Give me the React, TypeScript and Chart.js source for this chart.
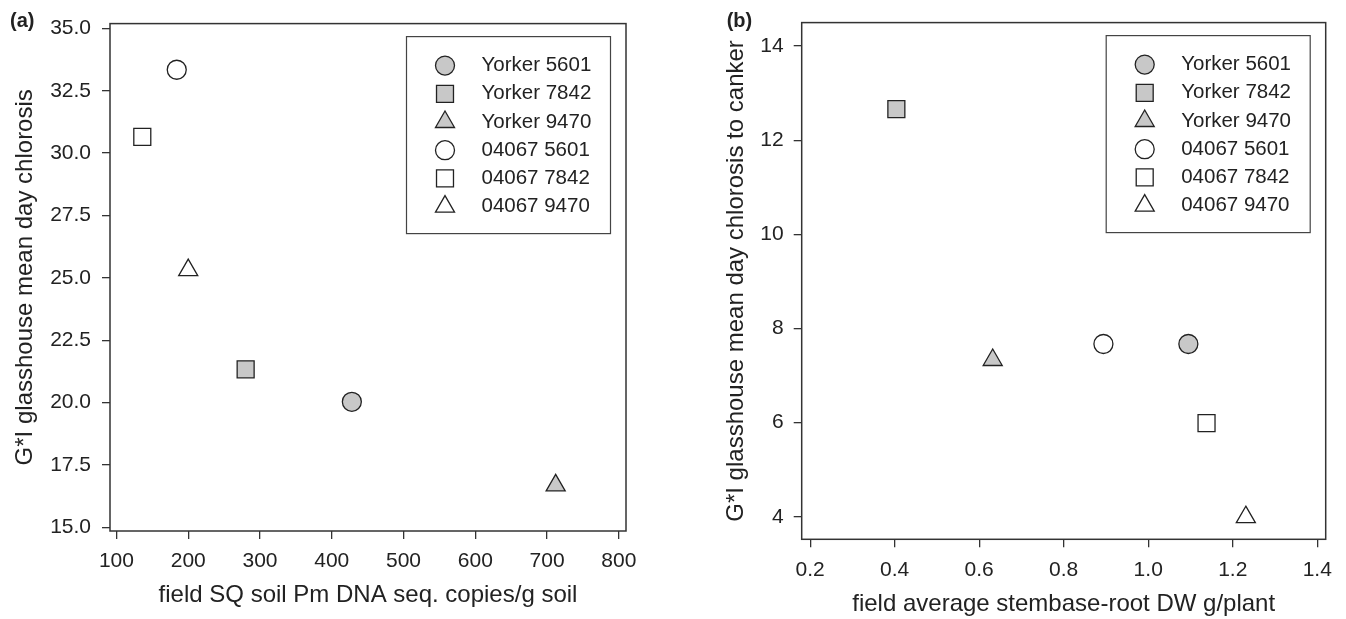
import React, { useEffect, useRef } from "react";
import { Chart, registerables } from "chart.js";
import { drawPoint } from "chart.js/helpers";

Chart.register(...registerables);

// ---------- data ----------
const seriesLabels = ["Yorker 5601", "Yorker 7842", "Yorker 9470", "04067 5601", "04067 7842", "04067 9470"];
const seriesShapes = ["circle", "rect", "triangle", "circle", "rect", "triangle"];
const seriesFilled = [true, true, true, false, false, false];

// panel (a): field SQ soil Pm DNA vs glasshouse mean day chlorosis
const panelAX = [428, 280, 712, 184, 136, 200];
const panelAY = [20.03, 21.33, 16.68, 33.34, 30.65, 25.31];
// panel (b): field stembase-root DW vs glasshouse mean day chlorosis to canker
const panelBX = [1.095, 0.404, 0.632, 0.894, 1.138, 1.231];
const panelBY = [7.67, 12.66, 7.33, 7.67, 5.99, 3.99];

const panelAXTicks = [100, 200, 300, 400, 500, 600, 700, 800];
const panelAYTicks = [15.0, 17.5, 20.0, 22.5, 25.0, 27.5, 30.0, 32.5, 35.0];
const panelBXTicks = [0.2, 0.4, 0.6, 0.8, 1.0, 1.2, 1.4];
const panelBYTicks = [4, 6, 8, 10, 12, 14];

const panelATitleX = "field SQ soil Pm DNA seq. copies/g soil";
const panelATitleY = "G*I glasshouse mean day chlorosis";
const panelBTitleX = "field average stembase-root DW g/plant";
const panelBTitleY = "G*I glasshouse mean day chlorosis to canker";

// ---------- styles ----------
const FONT = "'Liberation Sans', Arial, Helvetica, sans-serif";
const INK = "#222222";
const FRAME = "#333333";
const FILL = "#c8c8c8";
const H = 619;

const radiusFor = (shape: string) => (shape === "circle" ? 9.5 : shape === "rect" ? 12 : 11);

function buildDatasets(xs: number[], ys: number[]) {
  return seriesLabels.map((label, i) => ({
    label,
    data: [{ x: xs[i], y: ys[i] }],
    pointStyle: seriesShapes[i],
    pointRadius: radiusFor(seriesShapes[i]),
    pointHoverRadius: radiusFor(seriesShapes[i]),
    backgroundColor: seriesFilled[i] ? FILL : "#ffffff",
    borderColor: INK,
    borderWidth: 1.3,
    showLine: false,
  }));
}

function makeScale(o: {
  horizontal: boolean;
  min: number;
  max: number;
  ticks: number[];
  decimals: number;
  size: number;
  tickPad: number;
  title: string;
  titlePad: { top: number; bottom: number };
}) {
  return {
    type: "linear",
    min: o.min,
    max: o.max,
    afterBuildTicks: (s: any) => {
      s.ticks = o.ticks.map((v) => ({ value: v }));
    },
    afterFit: (s: any) => {
      if (o.horizontal) s.height = o.size;
      else s.width = o.size;
    },
    border: { display: false },
    grid: {
      display: true,
      drawOnChartArea: false,
      drawTicks: true,
      tickLength: 8,
      color: FRAME,
      tickColor: FRAME,
      lineWidth: 1.3,
    },
    ticks: {
      padding: o.tickPad,
      color: INK,
      autoSkip: false,
      maxRotation: 0,
      font: { family: FONT, size: 21 },
      callback: (v: any) => Number(v).toFixed(o.decimals),
    },
    title: {
      display: true,
      text: o.title,
      color: INK,
      font: { family: FONT, size: 24 },
      padding: o.titlePad,
    },
  };
}

function decorPlugin(panelLabel: string, labelX: number) {
  return {
    id: "decor",
    afterDraw(chart: any) {
      const ctx = chart.ctx;
      const ca = chart.chartArea;
      ctx.save();
      // frame
      ctx.strokeStyle = FRAME;
      ctx.lineWidth = 1.5;
      ctx.strokeRect(ca.left, ca.top, ca.right - ca.left, ca.bottom - ca.top);
      // legend box
      const bw = 204;
      const bh = 197;
      const bx = ca.right - 15.5 - bw;
      const by = ca.top + 13;
      ctx.fillStyle = "#ffffff";
      ctx.fillRect(bx, by, bw, bh);
      ctx.strokeStyle = "#444444";
      ctx.lineWidth = 1.2;
      ctx.strokeRect(bx, by, bw, bh);
      chart.data.datasets.forEach((ds: any, i: number) => {
        const cy = by + 29 + i * 28.2;
        ctx.fillStyle = ds.backgroundColor;
        ctx.strokeStyle = ds.borderColor;
        ctx.lineWidth = ds.borderWidth;
        drawPoint(ctx, { pointStyle: ds.pointStyle, radius: ds.pointRadius, borderWidth: ds.borderWidth, rotation: 0 }, bx + 38.5, cy);
        ctx.fillStyle = INK;
        ctx.font = `20.5px ${FONT}`;
        ctx.textAlign = "left";
        ctx.textBaseline = "middle";
        ctx.fillText(ds.label, bx + 75, cy);
      });
      // panel label
      ctx.fillStyle = INK;
      ctx.font = `bold 20px ${FONT}`;
      ctx.textAlign = "left";
      ctx.textBaseline = "middle";
      ctx.fillText(panelLabel, labelX, 21);
      ctx.restore();
    },
  };
}

function configA() {
  return {
    type: "scatter",
    data: { datasets: buildDatasets(panelAX, panelAY) },
    options: {
      responsive: false,
      animation: false,
      devicePixelRatio: 1,
      layout: { padding: { left: 0, top: 15.5, right: 34, bottom: 0 } },
      plugins: { legend: { display: false }, tooltip: { enabled: false } },
      scales: {
        x: makeScale({ horizontal: true, min: 91, max: 810, ticks: panelAXTicks, decimals: 0, size: 88, tickPad: 10, title: panelATitleX, titlePad: { top: 0, bottom: 9 } }),
        y: makeScale({ horizontal: false, min: 14.85, max: 35.19, ticks: panelAYTicks, decimals: 1, size: 110, tickPad: 11, title: panelATitleY, titlePad: { top: 10.6, bottom: 0 } }),
      },
    },
    plugins: [decorPlugin("(a)", 10)],
  };
}

function configB() {
  return {
    type: "scatter",
    data: { datasets: buildDatasets(panelBX, panelBY) },
    options: {
      responsive: false,
      animation: false,
      devicePixelRatio: 1,
      layout: { padding: { left: 0, top: 16.3, right: 20.3, bottom: 0 } },
      plugins: { legend: { display: false }, tooltip: { enabled: false } },
      scales: {
        x: makeScale({ horizontal: true, min: 0.18, max: 1.42, ticks: panelBXTicks, decimals: 1, size: 79.7, tickPad: 10, title: panelBTitleX, titlePad: { top: 0, bottom: 0 } }),
        y: makeScale({ horizontal: false, min: 3.52, max: 14.5, ticks: panelBYTicks, decimals: 0, size: 141.7, tickPad: 10, title: panelBTitleY, titlePad: { top: 62.3, bottom: 0 } }),
      },
    },
    plugins: [decorPlugin("(b)", 66.7)],
  };
}

function Panel({ left, width, make }: { left: number; width: number; make: () => any }) {
  const ref = useRef<HTMLCanvasElement | null>(null);
  useEffect(() => {
    if (!ref.current) return;
    const chart = new Chart(ref.current, make());
    return () => chart.destroy();
  }, []);
  return (
    <div style={{ position: "absolute", left, top: 0, width, height: H }}>
      <canvas ref={ref} width={width} height={H} style={{ display: "block", width, height: H }} />
    </div>
  );
}

export default function App() {
  return (
    <div style={{ position: "fixed", left: 0, top: 0, width: 1346, height: H, background: "#ffffff", overflow: "hidden" }}>
      <Panel left={0} width={660} make={configA} />
      <Panel left={660} width={686} make={configB} />
    </div>
  );
}
